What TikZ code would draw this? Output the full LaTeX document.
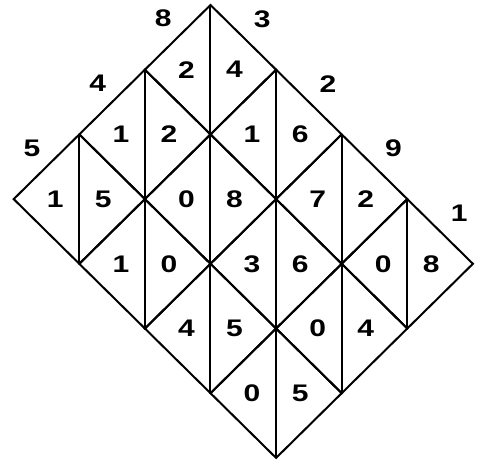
\documentclass[tikz,border=0pt]{standalone}
\usepackage{graphicx}
\usepackage{fontspec}
\setmainfont{Liberation Sans}
\newcommand{\widedigit}[1]{\scalebox{1.25}[1]{#1}}

\begin{document}
\begin{tikzpicture}[x=65.6pt,y=64.7pt,line width=2pt,line join=miter,
  digit/.style={font=\fontsize{24pt}{24pt}\selectfont\bfseries,inner sep=0pt}]
\useasboundingbox (-210.5pt,5pt) rectangle (266.5pt,-457pt);
% lattice cells: row i (8,4,5), column j (3,2,9,1), tens / units
\foreach \i/\j/\a/\b in {0/0/2/4, 0/1/1/6, 0/2/7/2, 0/3/0/8,
                         1/0/1/2, 1/1/0/8, 1/2/3/6, 1/3/0/4,
                         2/0/1/5, 2/1/1/0, 2/2/4/5, 2/3/0/5}{
  \pgfmathsetmacro{\cx}{\j-\i}
  \pgfmathsetmacro{\cy}{-\i-\j-1}
  \draw (\cx,\cy+1) -- (\cx-1,\cy) -- (\cx,\cy-1) -- (\cx+1,\cy) -- cycle;
  \draw (\cx,\cy+1) -- (\cx,\cy-1);
  \node[digit] (c\i\j l) at (\cx-0.366,\cy) {\widedigit{\a}};
  \node[digit] (c\i\j r) at (\cx+0.366,\cy) {\widedigit{\b}};
}
% factors along the two upper sides
\foreach \d [count=\k from 0] in {8,4,5}
  \node[digit] (lft\k) at (-\k-0.72,-\k-0.21) {\widedigit{\d}};
\foreach \d [count=\m from 0] in {3,2,9,1}
  \node[digit] (rgt\m) at (\m+0.79,-\m-0.22) {\widedigit{\d}};
\end{tikzpicture}
\end{document}
